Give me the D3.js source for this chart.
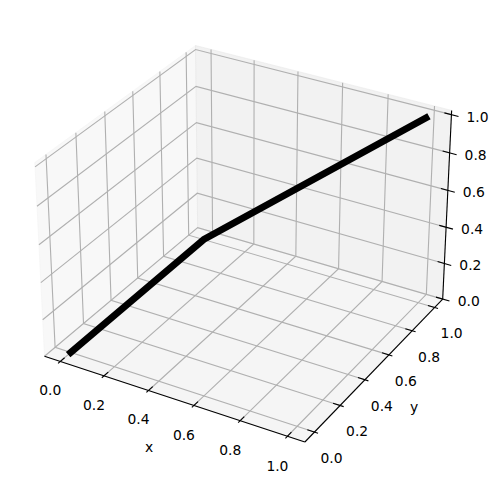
<!DOCTYPE html>
<html><head><meta charset="utf-8">
<style>html,body{margin:0;padding:0;background:#fff}svg{display:block}text{font-family:"DejaVu Sans",sans-serif;font-size:13.89px;fill:#000}</style>
<script src="https://cdn.jsdelivr.net/npm/d3@7"></script></head><body>
<script>
const lineX=[0,0,1];
const lineY=[0,1,1];
const lineZ=[0,0,1];
const tickValues=[0,0.2,0.4,0.6,0.8,1];
const W=498,H=484;
// axis limits used by the 3D box, and the slightly larger pane extents
const lim={x:[-0.05,1.05],y:[-0.05,1.05],z:[0,1]};
const pane={x:[-0.073,1.073],y:[-0.073,1.073],z:[0,1.022]};
const aspect=[4,4,3], elev=30*Math.PI/180, azim=-60*Math.PI/180, dist=10;
const n=Math.hypot(...aspect), k=1.8294640721620434*25/24;
const box=aspect.map(a=>a*k/n);
const sx=d3.scaleLinear().domain(lim.x).range([0,box[0]]);
const sy=d3.scaleLinear().domain(lim.y).range([0,box[1]]);
const sz=d3.scaleLinear().domain(lim.z).range([0,box[2]]);
const R=box.map(b=>b/2);
const dirv=[Math.cos(elev)*Math.cos(azim),Math.cos(elev)*Math.sin(azim),Math.sin(elev)];
const E=R.map((r,i)=>r+dist*dirv[i]);
const cross=(a,b)=>[a[1]*b[2]-a[2]*b[1],a[2]*b[0]-a[0]*b[2],a[0]*b[1]-a[1]*b[0]];
const dot=(a,b)=>a[0]*b[0]+a[1]*b[1]+a[2]*b[2];
const unit=a=>{const l=Math.hypot(...a);return a.map(v=>v/l)};
const u=unit(cross([0,0,1],dirv)), v=cross(dirv,u);
function raw(x,y,z){const p=[sx(x),sy(y),sz(z)].map((c,i)=>c-E[i]);const d=-dot(p,dirv);return [dot(p,u)/d,dot(p,v)/d];}
// screen scales, anchored on the reference's box corners
const px=d3.scaleLinear().domain([raw(pane.x[0],pane.y[0],pane.z[0])[0],raw(pane.x[1],pane.y[1],pane.z[0])[0]]).range([44.5,442.7]);
const py=d3.scaleLinear().domain([raw(pane.x[1],pane.y[0],pane.z[0])[1],raw(pane.x[0],pane.y[1],pane.z[1])[1]]).range([442,45.5]);
const P=(x,y,z)=>{const r=raw(x,y,z);return [px(r[0]),py(r[1])]};
const svg=d3.select("body").append("svg").attr("width",W).attr("height",H);
const path=d3.line();
const [x0,x1]=pane.x,[y0,y1]=pane.y,[z0,z1]=pane.z;
const panes=[
 {c:"rgba(242,242,242,0.5)",pts:[[x0,y0,z0],[x0,y1,z0],[x0,y1,z1],[x0,y0,z1]]},
 {c:"rgba(230,230,230,0.5)",pts:[[x0,y1,z0],[x1,y1,z0],[x1,y1,z1],[x0,y1,z1]]},
 {c:"rgba(236,236,236,0.5)",pts:[[x0,y0,z0],[x1,y0,z0],[x1,y1,z0],[x0,y1,z0]]}];
svg.append("g").selectAll("path").data(panes).join("path")
 .attr("d",d=>path(d.pts.map(p=>P(...p)))+"Z").attr("fill",d=>d.c).attr("stroke",d=>d.c).attr("stroke-width",1);
const grid=[];
tickValues.forEach(t=>{
 grid.push([[t,y0,z0],[t,y1,z0],[t,y1,z1]]);
 grid.push([[x1,t,z0],[x0,t,z0],[x0,t,z1]]);
 grid.push([[x0,y0,t],[x0,y1,t],[x1,y1,t]]);
});
svg.append("g").selectAll("path").data(grid).join("path").attr("fill","none").attr("stroke","#b0b0b0").attr("stroke-width",1.11)
 .attr("d",d=>path(d.map(p=>P(...p))));
// axis lines
const axes=[[[x0,y0,z0],[x1,y0,z0]],[[x1,y0,z0],[x1,y1,z0]],[[x1,y1,z0],[x1,y1,z1]]];
svg.append("g").selectAll("path").data(axes).join("path").attr("stroke","#000").attr("stroke-width",1.11).attr("fill","none")
 .attr("d",d=>path(d.map(p=>P(...p))));
// ticks and tick labels
const tx=[],lbl=[];
tickValues.forEach(t=>{
 const s=t.toFixed(1);
 tx.push([[t,y0+0.03,z0],[t,y0-0.015,z0]]);
 let a=P(t,y0,z0); lbl.push({s,x:a[0]-10,y:a[1]+28.5+t});
 tx.push([[x1-0.03,t,z0],[x1+0.015,t,z0]]);
 a=P(x1,t,z0); lbl.push({s,x:a[0]+17,y:a[1]+26});
 tx.push([[x1-0.03,y1,t],[x1+0.03,y1,t]]);
 a=P(x1,y1,t); lbl.push({s,x:a[0]+26,y:a[1]+2});
});
svg.append("g").selectAll("path").data(tx).join("path").attr("stroke","#000").attr("stroke-width",1.11)
 .attr("d",d=>path(d.map(p=>P(...p))));
svg.append("g").selectAll("text").data(lbl).join("text").attr("x",d=>d.x).attr("y",d=>d.y)
 .attr("text-anchor","middle").attr("dominant-baseline","central").text(d=>d.s);
svg.append("text").attr("x",149).attr("y",447).attr("text-anchor","middle").attr("dominant-baseline","central").text("x");
svg.append("text").attr("x",414).attr("y",407).attr("text-anchor","middle").attr("dominant-baseline","central").text("y");
// data line
svg.append("path").attr("fill","none").attr("stroke","#000").attr("stroke-width",6.94)
 .attr("stroke-linecap","square").attr("stroke-linejoin","round")
 .attr("d",path(lineX.map((x,i)=>P(x,lineY[i],lineZ[i]))));
</script></body></html>
